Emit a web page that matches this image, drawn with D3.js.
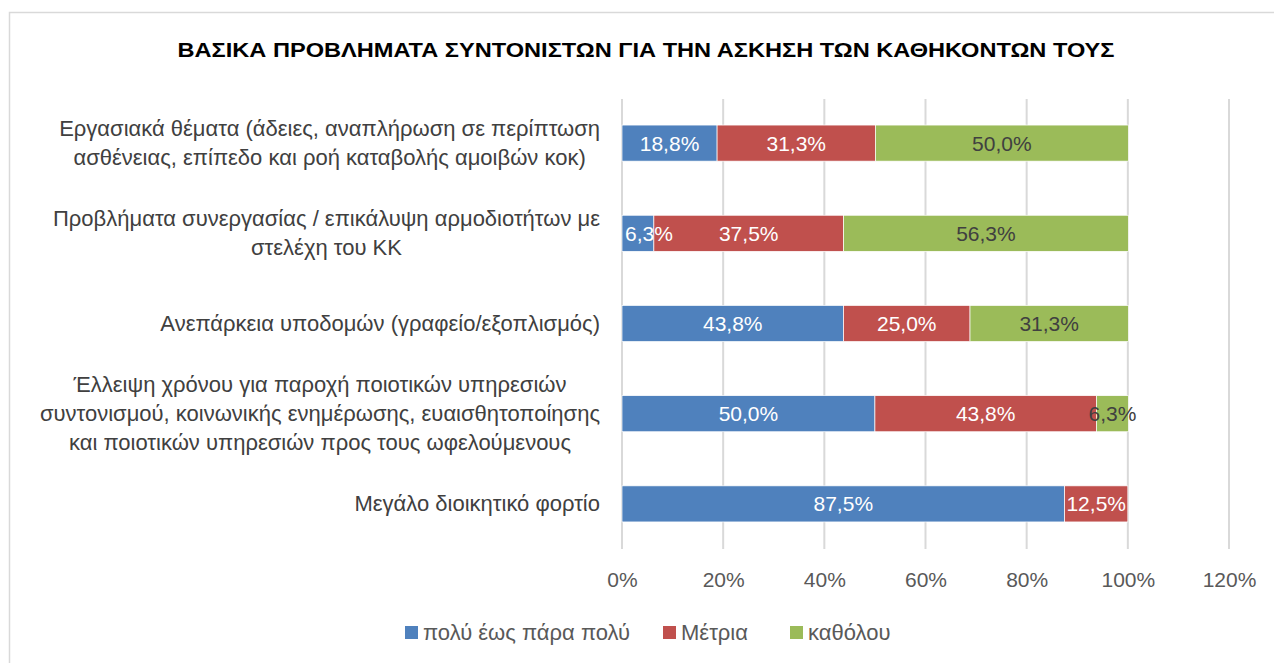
<!DOCTYPE html>
<html><head><meta charset="utf-8">
<script src="https://cdn.jsdelivr.net/npm/d3@7"></script>
<style>body{margin:0;background:#fff}svg{display:block}text{font-family:"Liberation Sans",Arial,sans-serif}</style>
</head><body><svg id="c" width="1274" height="663"></svg>
<script>
const title = "ΒΑΣΙΚΑ ΠΡΟΒΛΗΜΑΤΑ ΣΥΝΤΟΝΙΣΤΩΝ ΓΙΑ ΤΗΝ ΑΣΚΗΣΗ ΤΩΝ ΚΑΘΗΚΟΝΤΩΝ ΤΟΥΣ";
const categories = [
  ["Εργασιακά θέματα (άδειες, αναπλήρωση σε περίπτωση", "ασθένειας, επίπεδο και ροή καταβολής αμοιβών κοκ)"],
  ["Προβλήματα συνεργασίας / επικάλυψη αρμοδιοτήτων με", "στελέχη του ΚΚ"],
  ["Ανεπάρκεια υποδομών (γραφείο/εξοπλισμός)"],
  ["Έλλειψη χρόνου για παροχή ποιοτικών υπηρεσιών", "συντονισμού, κοινωνικής ενημέρωσης, ευαισθητοποίησης", "και ποιοτικών υπηρεσιών προς τους ωφελούμενους"],
  ["Μεγάλο διοικητικό φορτίο "]
];
const seriesNames = ["πολύ έως πάρα πολύ", "Μέτρια", "καθόλου"];
const seriesColors = ["#4F81BD", "#C0504D", "#9BBB59"];
const labelColors = ["#ffffff", "#ffffff", "#404040"];
const poluValues = [18.8, 6.3, 43.8, 50.0, 87.5];
const metriaValues = [31.3, 37.5, 25.0, 43.8, 12.5];
const katholouValues = [50.0, 56.3, 31.3, 6.3, 0];
const tickValues = [0, 20, 40, 60, 80, 100, 120];

const series = [poluValues, metriaValues, katholouValues];
const svg = d3.select("#c");
const fmt = v => v.toFixed(1).replace(".", ",") + "%";
const pct = v => v + "%";

// chart frame
svg.append("rect").attr("x", 9.5).attr("y", 12.5).attr("width", 1280).attr("height", 700)
  .attr("fill", "#fff").attr("stroke", "#d9d9d9").attr("stroke-width", 1.5);

svg.append("text").attr("x", 646).attr("y", 57).attr("text-anchor", "middle")
  .attr("font-size", 21).attr("font-weight", "bold").attr("fill", "#000")
  .attr("textLength", 937).attr("lengthAdjust", "spacingAndGlyphs").text(title);

const x = d3.scaleLinear().domain([0, 120]).range([622, 1229]);
const y = d3.scaleBand().domain(d3.range(categories.length)).range([98, 549]).paddingInner(0.6).paddingOuter(0.3);

// gridlines
svg.append("g").selectAll("line").data(tickValues).join("line")
  .attr("x1", d => x(d)).attr("x2", d => x(d)).attr("y1", 99).attr("y2", 549)
  .attr("stroke", "#d9d9d9").attr("stroke-width", 2);

// axis labels
const ax = svg.append("g").attr("transform", "translate(0,549)")
  .call(d3.axisBottom(x).tickValues(tickValues).tickFormat(pct).tickSize(0).tickPadding(23));
ax.select(".domain").remove();
ax.selectAll("text").attr("font-size", 21).attr("fill", "#595959").attr("font-family", '"Liberation Sans",Arial,sans-serif');

// stacked data
const rows = categories.map((c, i) => {
  let acc = 0;
  return series.map((s, k) => { const d = {i, k, x0: acc, x1: acc + s[i], v: s[i]}; acc += s[i]; return d; });
});
const segs = rows.flat();

svg.append("g").selectAll("rect").data(segs.filter(d => d.v > 0)).join("rect")
  .attr("x", d => x(d.x0)).attr("width", d => x(d.x1) - x(d.x0))
  .attr("y", d => y(d.i)).attr("height", y.bandwidth())
  .attr("fill", d => seriesColors[d.k]).attr("stroke", "#fff").attr("stroke-width", 0.7);

const dl = svg.append("g").selectAll("text").data(segs.filter(d => d.v > 0)).join("text")
  .attr("x", d => (x(d.x0) + x(d.x1)) / 2).attr("y", d => y(d.i) + y.bandwidth() / 2 + 7.5)
  .attr("text-anchor", "middle").attr("font-size", 21).attr("fill", d => labelColors[d.k])
  .text(d => fmt(d.v));
// keep labels inside plot area (left edge)
dl.each(function(d) {
  const w = this.getComputedTextLength();
  const cx = (x(d.x0) + x(d.x1)) / 2;
  if (cx - w / 2 < x(0) + 3) d3.select(this).attr("x", x(0) + 3 + w / 2);
});

// category labels
const lh = 29;
const cl = svg.append("g").selectAll("text").data(categories).join("text")
  .attr("text-anchor", "middle").attr("font-size", 22).attr("fill", "#404040");
cl.each(function(lines, i) {
  const cy = y(i) + y.bandwidth() / 2;
  const t = d3.select(this);
  lines.forEach((ln, j) => {
    t.append("tspan").attr("y", cy + 7.5 + (j - (lines.length - 1) / 2) * lh).text(ln);
  });
});
cl.each(function() {
  const t = d3.select(this);
  const widths = t.selectAll("tspan").nodes().map(n => n.getComputedTextLength());
  const w = d3.max(widths);
  t.selectAll("tspan").attr("x", 600 - w / 2);
});

// legend
const legX = [405, 663, 790];
const lg = svg.append("g").selectAll("g").data(seriesNames).join("g")
  .attr("transform", (d, k) => `translate(${legX[k]},626)`);
lg.append("rect").attr("width", 13).attr("height", 13).attr("fill", (d, k) => seriesColors[k]);
lg.append("text").attr("x", 18).attr("y", 14).attr("font-size", 22).attr("fill", "#595959").text(d => d);
</script></body></html>
